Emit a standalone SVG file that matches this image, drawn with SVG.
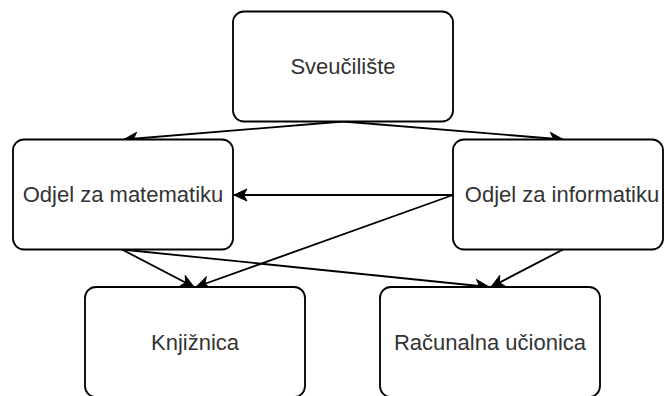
<svg xmlns="http://www.w3.org/2000/svg" width="665" height="396" viewBox="0 0 665 396">
  <style>
    .box { fill: #ffffff; stroke: #000000; stroke-width: 1.83; }
    .lbl { font-family: "Liberation Sans", Arial, sans-serif; font-size: 22px; fill: #333333; text-anchor: middle; }
    .edge { fill: none; stroke: #000000; stroke-width: 1.83; marker-end: url(#arrow); }
  </style>
  <defs>
    <marker id="arrow" markerUnits="userSpaceOnUse" viewBox="-14 -7 16 14" refX="0" refY="0" markerWidth="16" markerHeight="14" orient="auto">
      <path d="M0,0 L-13,-6 L-9.5,0 L-13,6 Z" fill="#000000" stroke="#000000" stroke-width="1"/>
    </marker>
  </defs>
  <rect width="665" height="396" fill="#ffffff"/>
  <g id="connectors">
    <line class="edge" x1="343" y1="121.5" x2="124" y2="139.5"/>
    <line class="edge" x1="343" y1="121.5" x2="563" y2="139.5"/>
    <line class="edge" x1="453" y1="195" x2="234" y2="195"/>
    <line class="edge" x1="453" y1="195" x2="196" y2="287"/>
    <line class="edge" x1="122" y1="249.5" x2="194" y2="287"/>
    <line class="edge" x1="122" y1="249.5" x2="489" y2="287"/>
    <line class="edge" x1="563" y1="249.5" x2="491" y2="287"/>
  </g>
  <g id="node-sveuciliste">
    <rect class="box" x="233" y="11.5" width="220" height="110" rx="11" ry="11"/>
    <text class="lbl" x="343" y="74">Sveučilište</text>
  </g>
  <g id="node-matematika">
    <rect class="box" x="13" y="139.5" width="220" height="110" rx="11" ry="11"/>
    <text class="lbl" x="123" y="202">Odjel za matematiku</text>
  </g>
  <g id="node-informatika">
    <rect class="box" x="453" y="139.5" width="210" height="110" rx="11" ry="11"/>
    <text class="lbl" x="562" y="202">Odjel za informatiku</text>
  </g>
  <g id="node-knjiznica">
    <rect class="box" x="85" y="287" width="220" height="110" rx="11" ry="11"/>
    <text class="lbl" x="195" y="350">Knjižnica</text>
  </g>
  <g id="node-ucionica">
    <rect class="box" x="380" y="287" width="220" height="110" rx="11" ry="11"/>
    <text class="lbl" x="490" y="350">Računalna učionica</text>
  </g>
</svg>
